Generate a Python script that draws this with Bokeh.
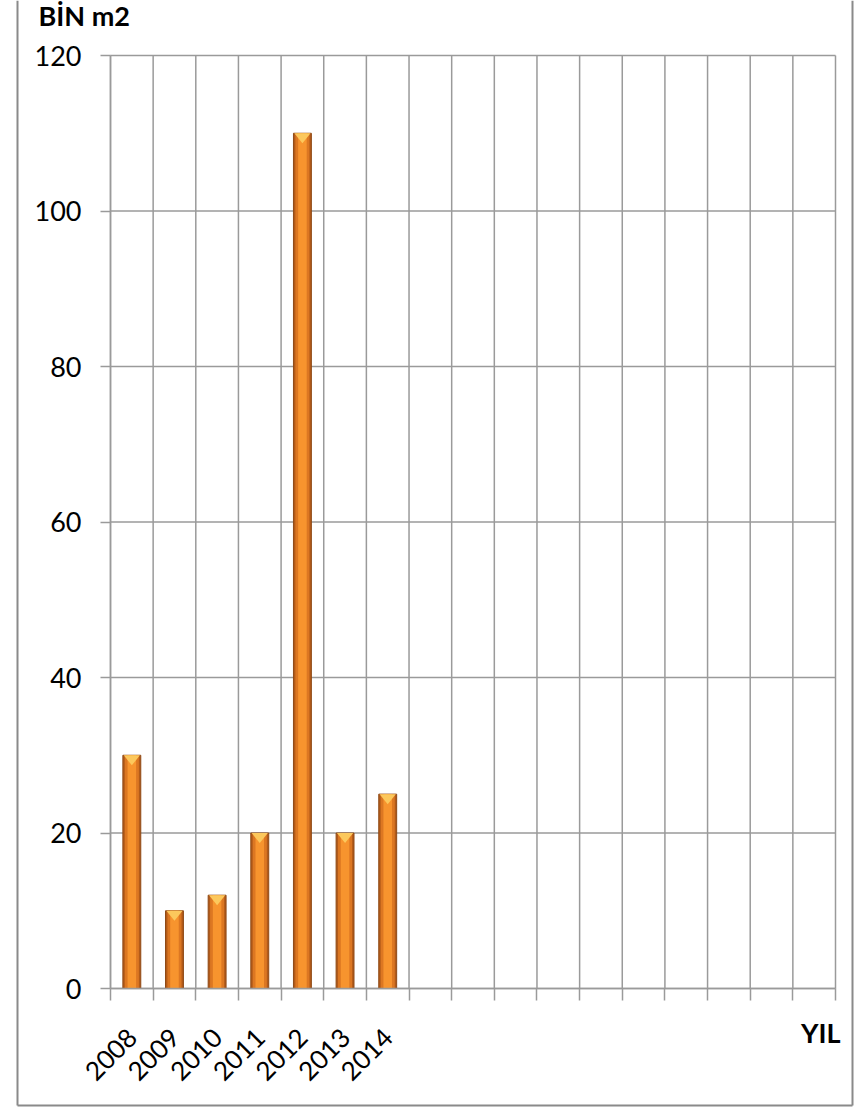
import math
from bokeh.plotting import figure
from bokeh.models import FixedTicker, Range1d, ColumnDataSource
from bokeh.core.properties import value
from bokeh.embed import file_html
from bokeh.resources import INLINE

# ---- data ----
years = ["2008", "2009", "2010", "2011", "2012", "2013", "2014"]
values = [30, 10, 12, 20, 110, 20, 25]
n_slots = 17
y_ticks = [0, 20, 40, 60, 80, 100, 120]
y_title = "BİN m2"
x_title = "YIL"

# ---- layout (pixels) ----
W, H = 854, 1107
PL, PR, PT, PB = 110, 835, 55, 988      # plot area edges on the canvas
Y_MAX = 120
FONT = "Lato"
GRID = "#9a9a9a"
FRAME = "#8a8a8a"

sx = (PR - PL) / n_slots
sy = (PB - PT) / Y_MAX


def xd(px):
    return (px - PL) / sx


def yd(py):
    return (PB - py) / sy


centers = [i + 0.5 for i in range(len(years))]

p = figure(width=W, height=H, output_backend="svg", toolbar_location=None,
           x_range=Range1d(xd(0), xd(W)), y_range=Range1d(yd(H), yd(0)),
           min_border=0)
p.title.visible = False
p.outline_line_color = None
p.background_fill_color = "white"
p.border_fill_color = "white"
p.grid.visible = False

# grid lines (drawn within the value/category area)
slots = list(range(n_slots + 1))
p.segment(x0=slots, y0=[0] * len(slots), x1=slots, y1=[Y_MAX] * len(slots),
          line_color=GRID, line_width=1.5)
p.segment(x0=[0] * len(y_ticks), y0=y_ticks, x1=[n_slots] * len(y_ticks), y1=y_ticks,
          line_color=GRID, line_width=1.5)

# x axis
p.xaxis.fixed_location = 0
p.xaxis.bounds = (0, n_slots)
p.xaxis.ticker = FixedTicker(ticks=centers, minor_ticks=slots)
p.xaxis.major_label_overrides = {c: y for c, y in zip(centers, years)}
p.xaxis.major_tick_line_color = None
p.xaxis.major_tick_out = 6
p.xaxis.minor_tick_line_color = GRID
p.xaxis.minor_tick_line_width = 1.5
p.xaxis.minor_tick_out = 12
p.xaxis.minor_tick_in = 0
p.xaxis.axis_line_color = GRID
p.xaxis.axis_line_width = 1.5
p.xaxis.major_label_orientation = math.pi / 4
p.xaxis.major_label_text_font = FONT
p.xaxis.major_label_text_font_size = "26px"
p.xaxis.major_label_text_color = "black"
p.xaxis.major_label_standoff = 32

# y axis
p.yaxis.fixed_location = 0
p.yaxis.bounds = (0, Y_MAX)
p.yaxis.ticker = FixedTicker(ticks=y_ticks)
p.yaxis.minor_tick_line_color = None
p.yaxis.major_tick_line_color = GRID
p.yaxis.major_tick_line_width = 1.5
p.yaxis.major_tick_out = 10
p.yaxis.major_tick_in = 0
p.yaxis.axis_line_color = GRID
p.yaxis.axis_line_width = 1.5
p.yaxis.major_label_text_font = FONT
p.yaxis.major_label_text_font_size = "27px"
p.yaxis.major_label_text_color = "black"
p.yaxis.major_label_standoff = 19

# bars
src = ColumnDataSource(dict(x=centers, top=values))
p.vbar(x="x", top="top", width=0.42, bottom=0, source=src,
       fill_color="#B25A19", line_color="#8f4a16", line_width=1)
p.vbar(x="x", top="top", width=0.33, bottom=0, source=src,
       fill_color="#DC7722", line_color=None)
p.vbar(x="x", top="top", width=0.2, bottom=0, source=src,
       fill_color="#F7942E", line_color=None)

# top caps (small inverted triangles)
xs = [[c - 0.19, c + 0.19, c] for c in centers]
ys = [[v, v, v - 1.3] for v in values]
p.patches(xs, ys, fill_color="#FCC85C", line_color=None)

# axis titles
p.text(x=[xd(38)], y=[yd(15)], text=[y_title], text_font=value(FONT),
       text_font_style="bold", text_font_size="27px", text_color="black",
       text_baseline="alphabetic", text_align="left")
p.text(x=[xd(840)], y=[yd(1032)], text=[x_title], text_font=value(FONT),
       text_font_style="bold", text_font_size="27px", text_color="black",
       text_baseline="alphabetic", text_align="right")

# outer chart border (left, right, bottom)
p.segment(x0=[xd(17), xd(852), xd(17)], y0=[yd(0), yd(0), yd(1105)],
          x1=[xd(17), xd(852), xd(852)], y1=[yd(1105), yd(1105), yd(1105)],
          line_color=FRAME, line_width=2)

open("out.html", "w").write(file_html(p, INLINE))
